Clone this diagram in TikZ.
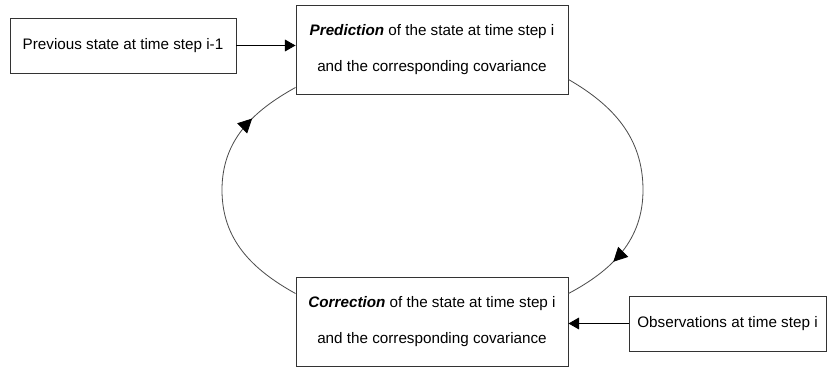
\documentclass[tikz,border=0pt]{standalone}
\usepackage{fontspec}
\setmainfont{Liberation Sans}
\usetikzlibrary{arrows.meta,decorations.markings}

\tikzset{
	box/.style={draw=black!80,line width=0.8pt,align=center,inner sep=0pt,
		font=\fontsize{13}{31}\selectfont},
	feed/.style={line width=0.8pt,-{Triangle[length=9pt,width=10pt]}},
	cyc/.style={draw=black!70,line width=0.7pt,postaction={decorate},
		decoration={markings,mark=at position 0.8 with {\arrow[black]{Triangle[length=12pt,width=12pt]}}}}
}

\begin{document}
\begin{tikzpicture}[x=0.03cm,y=-0.03cm]

	\useasboundingbox (0,0) rectangle (830,370);

	\node[box,minimum width=6.78cm,minimum height=1.65cm] (prev) at (123,45.5) {Previous state at time step i-1};
	\node[box,minimum width=8.16cm,minimum height=2.67cm] (pred) at (432,49.5) {\textbf{\textit{Prediction}} of the state at time step i\\and the corresponding covariance};
	\node[box,minimum width=8.16cm,minimum height=2.67cm] (corr) at (432,321.5) {\textbf{\textit{Correction}} of the state at time step i\\and the corresponding covariance};
	\node[box,minimum width=5.91cm,minimum height=1.65cm] (obs) at (727.5,323.5) {Observations at time step i};

	\coordinate (lft) at (222,190);
	\coordinate (rgt) at (643,190);

	\draw[feed] (prev) -- (pred.west |- prev);
	\draw[feed] (obs) -- (corr.east |- obs);

	% the loop
	\draw[cyc] ([yshift=-0.51cm]corr.north west) to[out=151,in=-90] (lft) to[out=90,in=-151] ([yshift=0.21cm]pred.south west);
	\draw[cyc] ([yshift=0.45cm]pred.south east) to[out=-30,in=90] (rgt) to[out=-90,in=28] ([yshift=-0.51cm]corr.north east);

\end{tikzpicture}
\end{document}
